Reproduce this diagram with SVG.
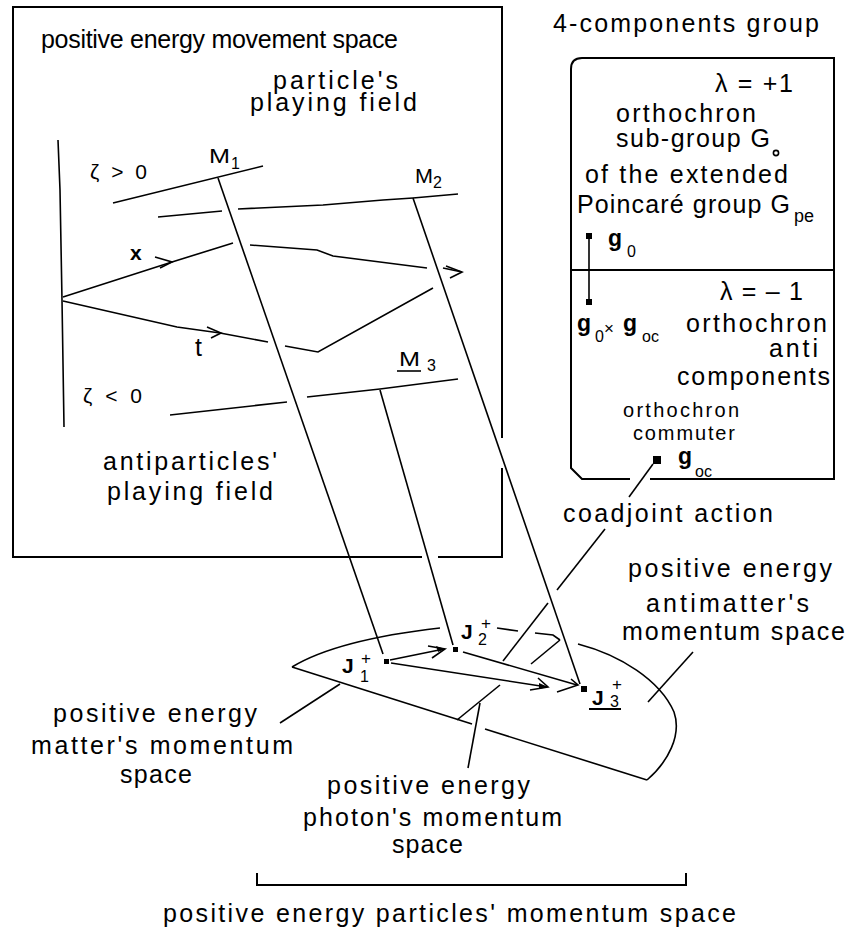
<svg xmlns="http://www.w3.org/2000/svg" width="849" height="931" viewBox="0 0 849 931">
<style>
text{font-family:"Liberation Sans",Arial,sans-serif;font-size:25px;fill:#000}
.sm{font-size:20px}
.lab{font-size:21px}
.sub{font-size:16px}
.sup{font-size:17px}
.g{font-weight:bold;font-size:23px}
.J{font-weight:bold;font-size:21px}
.ln{stroke:#000;stroke-width:2;fill:none;stroke-linejoin:miter}
.th{stroke:#000;stroke-width:1.6;fill:none}
.dot{fill:#000}
</style>
<rect width="849" height="931" fill="#fff"/>

<g id="movement-space">
<path class="ln" d="M502,438 V7 H13 V557 H422 M438,557 H502 V468"/>
<text x="41" y="48" textLength="357" lengthAdjust="spacing">positive energy movement space</text>
</g>

<g id="particle-field">
<text x="273" y="89" textLength="125" lengthAdjust="spacing">particle's</text>
<text x="250" y="111" textLength="167" lengthAdjust="spacing">playing field</text>
<text class="lab" x="90" y="179" textLength="57" lengthAdjust="spacing">ζ &gt; 0</text>
</g>

<g id="antiparticle-field">
<text class="lab" x="83" y="403" textLength="59" lengthAdjust="spacing">ζ &lt; 0</text>
<text x="103" y="470" textLength="174" lengthAdjust="spacing">antiparticles'</text>
<text x="107" y="500" textLength="166" lengthAdjust="spacing">playing field</text>
</g>

<g id="axes">
<polyline class="th" points="58,140 60,190 62,300 64,427"/>
<polyline class="th" points="63,297 172,262 233,243"/>
<polyline class="th" points="250,245 317,250 333,256 427,268"/>
<line class="th" x1="443" y1="268" x2="462" y2="272"/>
<polyline class="th" points="450,278 462,272 446,266"/>
<polyline class="th" points="155,257 172,262 160,268"/>
<text x="130" y="260" style="font-size:21px;font-weight:bold">x</text>
<polyline class="th" points="63,301 177,327 220,333 268,342"/>
<polyline class="th" points="285,346 318,352 433,288"/>
<polyline class="th" points="207,327 221,333 211,338"/>
<text x="195" y="356">t</text>
</g>

<g id="leaves">
<line class="th" x1="113" y1="203" x2="263" y2="166"/>
<polyline class="th" points="158,217 222,211"/>
<polyline class="th" points="238,209 323,205 383,200 413,198 458,194"/>
<polyline class="th" points="170,415 287,402"/>
<polyline class="th" points="307,397 380,389 458,379"/>
</g>

<g id="M1">
<text class="lab" x="209" y="163" textLength="21" lengthAdjust="spacingAndGlyphs">M</text>
<text class="sub" x="231" y="169">1</text>
</g>
<g id="M2">
<text class="lab" x="415" y="183" textLength="18" lengthAdjust="spacingAndGlyphs">M</text>
<text class="sub" x="433" y="188">2</text>
</g>
<g id="M3">
<text class="lab" x="399" y="366" textLength="21" lengthAdjust="spacingAndGlyphs">M</text>
<line class="th" x1="397" y1="371" x2="421" y2="371"/>
<text class="sub" x="427" y="371">3</text>
</g>

<g id="components-group">
<text x="553" y="32" textLength="266" lengthAdjust="spacing">4-components group</text>
<path class="ln" d="M650,479 H834 V58 H582 Q571,58 571,69 V468 L582,479 H630"/>
<line class="ln" x1="571" y1="270" x2="834" y2="270"/>
</g>

<g id="orthochron-subgroup">
<text x="715" y="92" textLength="78" lengthAdjust="spacing">λ = +1</text>
<text x="616" y="122" textLength="140" lengthAdjust="spacing">orthochron</text>
<text x="616" y="147" textLength="154" lengthAdjust="spacing">sub-group G</text>
<circle cx="776" cy="153" r="2.6" class="th"/>
<text x="585" y="183" textLength="203" lengthAdjust="spacing">of the extended</text>
<text x="577" y="213" textLength="213" lengthAdjust="spacing">Poincaré group G</text>
<text x="794" y="222" style="font-size:18px">pe</text>
<rect class="dot" x="586" y="233" width="6" height="6"/>
<text class="g" x="608" y="246">g</text>
<text class="sub" x="627" y="257">0</text>
</g>

<g id="anti-components">
<line class="th" x1="589" y1="238" x2="589" y2="301"/>
<rect class="dot" x="586" y="299" width="6" height="6"/>
<text class="g" x="577" y="331">g</text>
<text class="sub" x="595" y="342">0</text>
<text x="604" y="334" style="font-size:17px">×</text>
<text class="g" x="623" y="331">g</text>
<text class="sub" x="642" y="342">oc</text>
<text x="720" y="300" textLength="83" lengthAdjust="spacing">λ = – 1</text>
<text x="686" y="332" textLength="141" lengthAdjust="spacing">orthochron</text>
<text x="769" y="357" textLength="49" lengthAdjust="spacing">anti</text>
<text x="677" y="385" textLength="153" lengthAdjust="spacing">components</text>
</g>

<g id="commuter">
<text class="sm" x="623" y="417" textLength="116" lengthAdjust="spacing">orthochron</text>
<text class="sm" x="633" y="440" textLength="102" lengthAdjust="spacing">commuter</text>
<rect class="dot" x="653" y="456" width="8" height="8"/>
<text class="g" x="678" y="464">g</text>
<text class="sub" x="695" y="477">oc</text>
</g>

<g id="coadjoint-action">
<text x="563" y="522" textLength="210" lengthAdjust="spacing">coadjoint action</text>
</g>

<g id="momentum-space">
<path class="th" d="M292,667 C320,650 370,636 440,628"/>
<path class="th" d="M497,628 L518,631"/>
<path class="th" d="M535,633 L553,635 L560,640"/>
<path class="th" d="M578,644 C620,655 660,680 674,712 C682,735 668,762 647,780"/>
<line class="th" x1="560" y1="640" x2="531" y2="664"/>
<line class="th" x1="500" y1="685" x2="457" y2="720"/>
<line class="th" x1="292" y1="667" x2="472" y2="724"/>
<line class="th" x1="485" y1="729" x2="647" y2="780"/>
</g>

<g id="J1">
<rect class="dot" x="384" y="659" width="5" height="5"/>
<text class="J" x="342" y="673">J</text>
<text class="sub" x="360" y="682">1</text>
<text class="sup" x="361" y="664">+</text>
</g>
<g id="J2">
<rect class="dot" x="453" y="647" width="5" height="5"/>
<text class="J" x="461" y="639">J</text>
<text class="sub" x="478" y="645">2</text>
<text class="sup" x="481" y="629">+</text>
</g>
<g id="J3">
<rect class="dot" x="581" y="686" width="6" height="6"/>
<text class="J" x="592" y="705">J</text>
<text class="sub" x="610" y="707">3</text>
<text class="sup" x="612" y="690">+</text>
<line class="ln" x1="589" y1="709" x2="621" y2="709"/>
</g>

<g id="labels-momentum">
<text x="53" y="722" textLength="204" lengthAdjust="spacing">positive energy</text>
<text x="31" y="754" textLength="262" lengthAdjust="spacing">matter's momentum</text>
<text x="120" y="783" textLength="72" lengthAdjust="spacing">space</text>
<text x="327" y="794" textLength="203" lengthAdjust="spacing">positive energy</text>
<text x="303" y="826" textLength="259" lengthAdjust="spacing">photon's momentum</text>
<text x="392" y="853" textLength="71" lengthAdjust="spacing">space</text>
<text x="628" y="577" textLength="204" lengthAdjust="spacing">positive energy</text>
<text x="646" y="612" textLength="163" lengthAdjust="spacing">antimatter's</text>
<text x="622" y="640" textLength="223" lengthAdjust="spacing">momentum space</text>
</g>

<g id="particles-momentum-space">
<path class="ln" d="M257,873 V885 H686 V873"/>
<text x="163" y="922" textLength="573" lengthAdjust="spacing">positive energy particles' momentum space</text>
</g>

<g id="connectors">
<line class="th" x1="218" y1="178" x2="383" y2="654"/>
<line class="th" x1="413" y1="198" x2="580" y2="684"/>
<line class="th" x1="380" y1="390" x2="453" y2="645"/>
<line class="th" x1="390" y1="660" x2="444" y2="649"/>
<polyline class="th" points="428,646 445,649 432,658"/>
<polygon class="dot" points="445,649 436,646 438,652"/>
<line class="th" x1="391" y1="663" x2="547" y2="687"/>
<polyline class="th" points="538,678 548,687 530,690"/>
<polygon class="dot" points="548,687 539,683 539,689"/>
<line class="th" x1="463" y1="652" x2="577" y2="685"/>
<polyline class="th" points="571,679 578,685 557,692"/>
<line class="th" x1="653" y1="464" x2="629" y2="497"/>
<line class="th" x1="605" y1="529" x2="557" y2="590"/>
<line class="th" x1="548" y1="603" x2="503" y2="661"/>
<line class="th" x1="340" y1="684" x2="280" y2="723"/>
<line class="th" x1="480" y1="703" x2="468" y2="768"/>
<line class="th" x1="693" y1="652" x2="648" y2="702"/>
</g>
</svg>
